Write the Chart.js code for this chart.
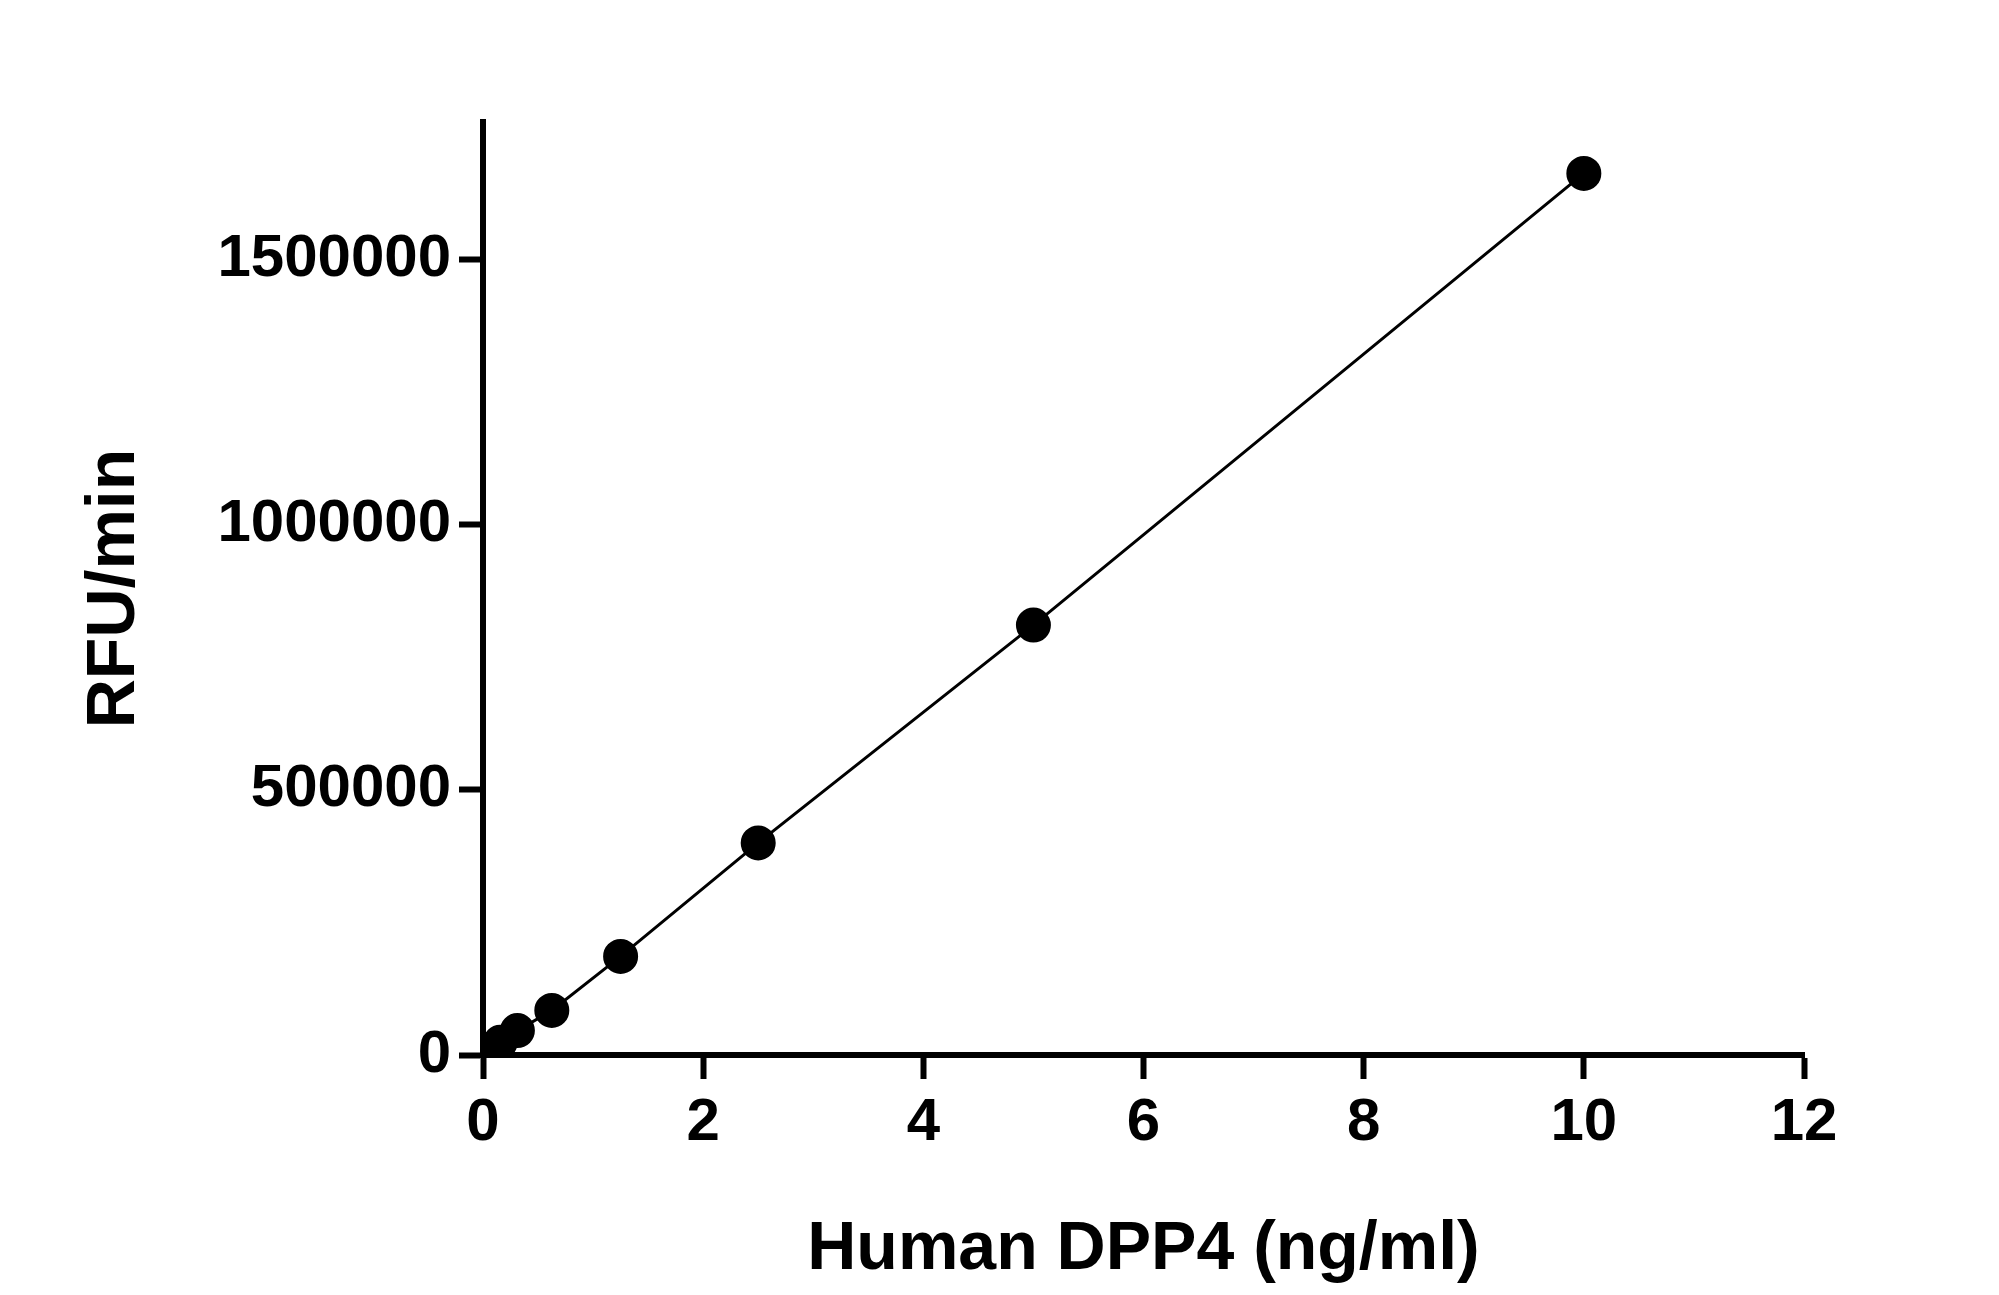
<!DOCTYPE html>
<html>
<head>
<meta charset="utf-8">
<script src="https://cdn.jsdelivr.net/npm/chart.js@4"></script>
<style>
  body { margin: 0; background: #fff; }
  canvas { display: block; }
</style>
</head>
<body>
<canvas id="dppChart" width="1999" height="1295"></canvas>
<script>
const concentrations = [0, 0.078, 0.156, 0.3125, 0.625, 1.25, 2.5, 5, 10];
const rfuPerMin = [5000, 12000, 24000, 46000, 84000, 186000, 400000, 811000, 1663000];
const yTicks = [0, 500000, 1000000, 1500000];

let ctx = document.getElementById('dppChart');
new Chart(ctx, {
    type: 'scatter',
    data: {
        datasets: [{
            data: concentrations.map((c, i) => ({x: c, y: rfuPerMin[i]})),
            showLine: true,
            borderColor: '#000',
            borderWidth: 3,
            backgroundColor: '#000',
            pointRadius: 16,
            pointHoverRadius: 16,
        }]
    },
    options: {
        responsive: false,
        animation: false,
        layout: { padding: { top: 122, right: 195, left: 70, bottom: 0 } },
        plugins: { legend: { display: false }, tooltip: { enabled: false } },
        scales: {
            x: {
                type: 'linear',
                min: 0,
                max: 12,
                ticks: { stepSize: 2, color: '#000', padding: 8,
                    font: { family: 'Liberation Sans', weight: 'bold', size: 60 } },
                grid: { drawOnChartArea: false, drawTicks: true, tickLength: 24, tickWidth: 6, tickColor: '#000' },
                border: { color: '#000', width: 6 },
                title: { display: true, text: 'Human DPP4 (ng/ml)', color: '#000', padding: { top: 12 },
                    font: { family: 'Liberation Sans', weight: 'bold', size: 68 } },
                afterFit: s => { s.height = 240; }
            },
            y: {
                min: 0,
                max: 1760000,
                afterBuildTicks: s => { s.ticks = yTicks.map(v => ({value: v})); },
                ticks: { color: '#000', padding: 8, callback: v => String(v),
                    font: { family: 'Liberation Sans', weight: 'bold', size: 60 } },
                grid: { drawOnChartArea: false, drawTicks: true, tickLength: 24, tickWidth: 6, tickColor: '#000' },
                border: { color: '#000', width: 6 },
                title: { display: true, text: 'RFU/min', color: '#000', padding: { bottom: 10 },
                    font: { family: 'Liberation Sans', weight: 'bold', size: 68 } },
                afterFit: s => { s.width = 413; }
            }
        }
    }
});
</script>
</body>
</html>
